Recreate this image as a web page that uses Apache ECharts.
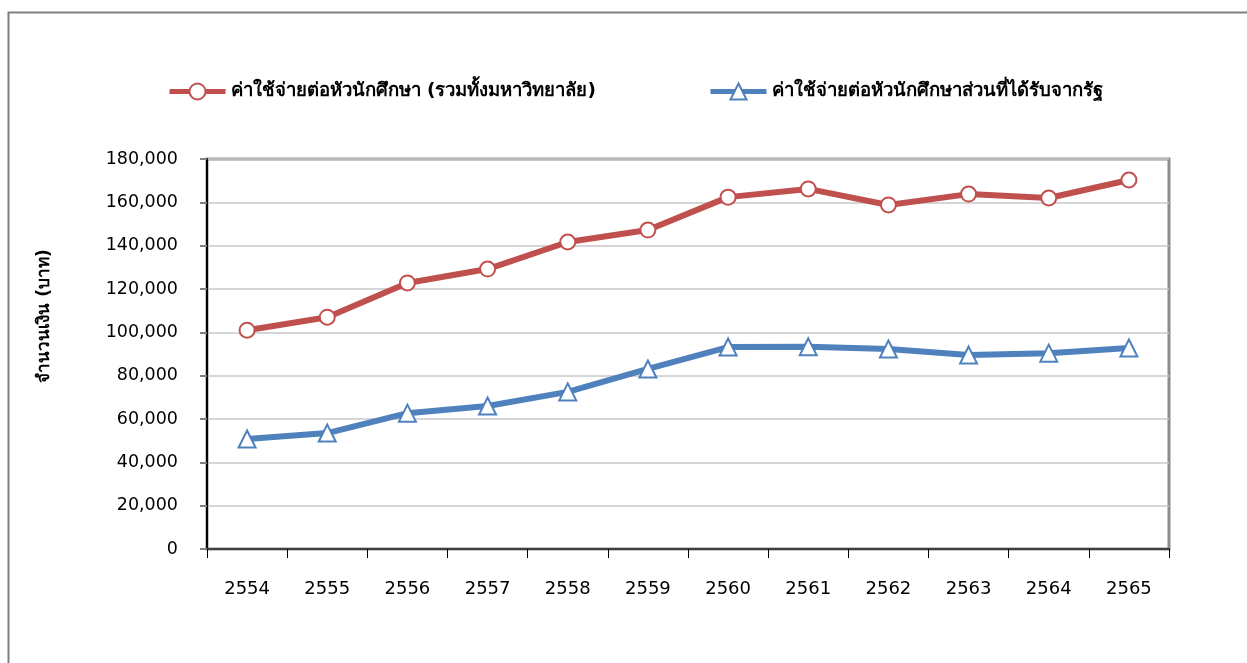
<!DOCTYPE html>
<html>
<head>
<meta charset="utf-8">
<script src="https://cdn.jsdelivr.net/npm/echarts@6/dist/echarts.min.js"></script>
<style>
  html, body { margin: 0; padding: 0; background: #fff; }
  #chart { width: 1247px; height: 663px; }
</style>
</head>
<body>
<div id="chart"></div>
<script>
// Academic years (B.E.)
const years = ['2554', '2555', '2556', '2557', '2558', '2559', '2560', '2561', '2562', '2563', '2564', '2565'];
// Cost per student, all universities combined (baht)
const costTotal = [101000, 107000, 122800, 129200, 141700, 147200, 162400, 166200, 158800, 163800, 162000, 170300];
// Cost per student covered by the state (baht)
const costState = [50800, 53500, 62700, 66000, 72500, 83100, 93200, 93300, 92300, 89500, 90400, 92800];

const seriesNames = ['ค่าใช้จ่ายต่อหัวนักศึกษา (รวมทั้งมหาวิทยาลัย)', 'ค่าใช้จ่ายต่อหัวนักศึกษาส่วนที่ได้รับจากรัฐ'];
const yTitle = 'จำนวนเงิน (บาท)';

const FONT = "Tahoma, 'DejaVu Sans', 'Noto Sans', sans-serif";
const RED = '#C0504D';
const BLUE = '#4F81BD';

const chart = echarts.init(document.getElementById('chart'), null, { renderer: 'canvas' });

const legendText = { fontFamily: FONT, fontSize: 18.5, fontWeight: 'bold', color: '#000' };

chart.setOption({
  backgroundColor: '#fff',
  animation: false,
  graphic: [{
    type: 'rect',
    shape: { x: 8.5, y: 12.5, width: 1260, height: 700 },
    style: { fill: 'none', stroke: '#7f7f7f', lineWidth: 2 },
    silent: true
  }, {
    // vertical axis title
    type: 'text',
    x: 45, y: 316,
    rotation: Math.PI / 2,
    style: {
      text: yTitle,
      font: "bold 17px " + FONT,
      fill: '#000',
      align: 'center',
      verticalAlign: 'middle'
    },
    silent: true
  }],
  legend: [{
    data: [seriesNames[0]],
    left: 162, top: 77,
    itemWidth: 56, itemHeight: 20, itemGap: 4,
    lineStyle: { width: 5 },
    textStyle: legendText
  }, {
    data: [seriesNames[1]],
    left: 703, top: 77,
    itemWidth: 56, itemHeight: 20, itemGap: 4,
    lineStyle: { width: 5 },
    textStyle: legendText
  }],
  grid: { left: 207, right: 78, top: 159, bottom: 114, show: true, borderColor: '#8c8c8c', borderWidth: 3, backgroundColor: 'transparent' },
  xAxis: {
    type: 'category',
    data: years,
    boundaryGap: true,
    axisLine: { lineStyle: { color: '#404040', width: 2 } },
    axisTick: { show: true, length: 9, alignWithLabel: false, lineStyle: { color: '#000', width: 1 } },
    axisLabel: { margin: 31, fontFamily: FONT, fontSize: 18, color: '#000' }
  },
  yAxis: {
    type: 'value',
    min: 0, max: 180000, interval: 20000,
    axisLine: { show: true, lineStyle: { color: '#000', width: 2 } },
    axisTick: { show: true, inside: false, length: 7, lineStyle: { color: '#808080', width: 2 } },
    axisLabel: {
      margin: 29, fontFamily: FONT, fontSize: 17.5, color: '#000',
      formatter: v => v.toLocaleString('en-US')
    },
    splitLine: { show: true, lineStyle: { color: '#c8c8c8', width: 1.5 } }
  },
  series: [{
    name: seriesNames[0],
    type: 'line',
    data: costTotal,
    symbol: 'circle',
    symbolSize: 15,
    lineStyle: { color: RED, width: 6 },
    itemStyle: { color: '#fff', borderColor: RED, borderWidth: 2 },
    z: 3
  }, {
    name: seriesNames[1],
    type: 'line',
    data: costState,
    symbol: 'triangle',
    symbolSize: 17,
    lineStyle: { color: BLUE, width: 6 },
    itemStyle: { color: '#fff', borderColor: BLUE, borderWidth: 2 },
    z: 2
  }]
});
</script>
</body>
</html>
